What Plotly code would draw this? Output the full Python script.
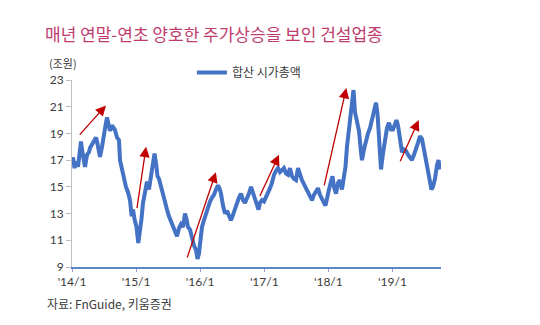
import plotly.graph_objects as go

# Combined market cap of construction stocks (trillion KRW), decimal-year time axis
years = [
    2014.000, 2014.016, 2014.039, 2014.062, 2014.094, 2014.125, 2014.140, 2014.156, 2014.187, 2014.203,
    2014.234, 2014.265, 2014.281, 2014.312, 2014.343, 2014.374, 2014.390, 2014.421, 2014.437, 2014.468,
    2014.499, 2014.530, 2014.546, 2014.569, 2014.593, 2014.624, 2014.647, 2014.671, 2014.702, 2014.733,
    2014.749, 2014.780, 2014.811, 2014.842, 2014.874, 2014.905, 2014.931, 2014.952, 2014.975, 2015.006,
    2015.034, 2015.053, 2015.084, 2015.108, 2015.139, 2015.170, 2015.201, 2015.232, 2015.264, 2015.287,
    2015.310, 2015.334, 2015.357, 2015.388, 2015.420, 2015.451, 2015.482, 2015.513, 2015.544, 2015.576,
    2015.607, 2015.638, 2015.669, 2015.700, 2015.732, 2015.763, 2015.786, 2015.810, 2015.841, 2015.872,
    2015.903, 2015.934, 2015.958, 2015.981, 2016.005, 2016.028, 2016.059, 2016.090, 2016.122, 2016.153,
    2016.184, 2016.215, 2016.246, 2016.278, 2016.301, 2016.324, 2016.356, 2016.387, 2016.418, 2016.449,
    2016.480, 2016.512, 2016.543, 2016.574, 2016.605, 2016.637, 2016.668, 2016.699, 2016.730, 2016.761,
    2016.793, 2016.824, 2016.855, 2016.886, 2016.910, 2016.933, 2016.964, 2016.995, 2017.027, 2017.058,
    2017.089, 2017.120, 2017.151, 2017.183, 2017.214, 2017.245, 2017.276, 2017.307, 2017.339, 2017.370,
    2017.401, 2017.432, 2017.463, 2017.495, 2017.526, 2017.557, 2017.588, 2017.619, 2017.651, 2017.682,
    2017.713, 2017.744, 2017.775, 2017.807, 2017.838, 2017.869, 2017.900, 2017.931, 2017.955, 2017.978,
    2018.009, 2018.041, 2018.064, 2018.087, 2018.119, 2018.150, 2018.181, 2018.212, 2018.243, 2018.267,
    2018.290, 2018.321, 2018.345, 2018.368, 2018.392, 2018.415, 2018.446, 2018.477, 2018.509, 2018.524,
    2018.555, 2018.587, 2018.618, 2018.649, 2018.680, 2018.711, 2018.743, 2018.766, 2018.789, 2018.821,
    2018.852, 2018.883, 2018.914, 2018.945, 2018.977, 2019.008, 2019.039, 2019.062, 2019.086, 2019.117,
    2019.148, 2019.179, 2019.211, 2019.242, 2019.273, 2019.304, 2019.335, 2019.367, 2019.398, 2019.429,
    2019.460, 2019.491, 2019.523, 2019.554, 2019.585, 2019.608, 2019.632, 2019.663, 2019.694, 2019.718,
    2019.741,
]
market_cap = [
    16.8, 17.2, 16.4, 16.9, 16.5, 18.0, 18.4, 17.8, 16.7, 16.5,
    17.4, 17.6, 17.9, 18.2, 18.5, 18.7, 18.4, 17.6, 17.25, 18.0,
    19.2, 19.8, 20.2, 19.6, 19.2, 19.6, 19.4, 19.25, 18.7, 18.5,
    17.0, 16.3, 15.6, 15.0, 14.6, 14.0, 12.8, 13.3, 12.6, 12.0,
    10.8, 11.4, 12.6, 13.8, 14.8, 15.4, 14.8, 15.8, 16.8, 17.5,
    16.8, 15.8, 15.6, 15.0, 14.3, 13.6, 13.3, 12.8, 12.4, 12.0,
    11.6, 11.3, 11.9, 12.2, 12.0, 13.0, 12.6, 12.0, 11.8, 11.1,
    10.6, 10.3, 9.6, 10.0, 11.2, 12.0, 12.5, 13.0, 13.4, 13.9,
    14.2, 14.4, 14.8, 15.1, 14.9, 14.5, 13.6, 13.0, 13.2, 12.8,
    12.5, 12.9, 13.4, 13.7, 14.2, 14.5, 14.0, 13.8, 14.1, 14.5,
    15.0, 14.5, 14.0, 13.6, 13.3, 13.8, 14.0, 13.9, 14.2, 14.5,
    14.9, 15.3, 15.9, 16.2, 16.4, 16.1, 16.3, 16.4, 16.0, 15.9,
    16.4, 15.8, 15.6, 15.5, 16.4, 15.9, 15.5, 15.2, 14.9, 14.5,
    14.2, 14.0, 14.4, 14.6, 14.9, 14.4, 14.0, 13.8, 13.6, 14.2,
    14.8, 15.4, 15.8, 15.0, 14.5, 15.3, 15.5, 14.8, 15.6, 16.5,
    18.0, 19.3, 20.0, 21.4, 22.25, 20.6, 19.8, 19.2, 17.6, 17.0,
    17.8, 18.5, 19.0, 19.4, 20.0, 20.6, 21.3, 20.5, 18.5, 16.3,
    17.5, 18.6, 19.4, 19.8, 19.3, 19.3, 19.8, 20.0, 19.6, 18.8,
    17.6, 17.8, 17.7, 17.4, 17.2, 17.0, 17.4, 17.8, 18.3, 18.8,
    18.6, 17.8, 17.0, 16.0, 15.3, 14.8, 15.0, 15.6, 16.6, 17.0,
    16.3,
]

# Year-end / year-start rally arrows: (start year, start value, end year, end value)
rally_arrows = [
    (2014.100, 18.8, 2014.530, 21.1),
    (2015.010, 13.3, 2015.156, 18.0),
    (2015.790, 9.6, 2016.245, 16.1),
    (2016.920, 14.2, 2017.230, 17.4),
    (2017.930, 15.0, 2018.280, 22.4),
    (2019.110, 16.8, 2019.410, 20.0),
]

tick_years = [2014, 2015, 2016, 2017, 2018, 2019]
tick_labels = ["'14/1", "'15/1", "'16/1", "'17/1", "'18/1", "'19/1"]
y_ticks = [9, 11, 13, 15, 17, 19, 21, 23]

FONT = "Noto Sans CJK KR"
TEXT = "#3a3a3a"

fig = go.Figure()
fig.add_trace(go.Scatter(
    x=years, y=market_cap, mode="lines", name="합산 시가총액",
    line=dict(color="#4472C4", width=4),
))

for x0, y0, x1, y1 in rally_arrows:
    fig.add_annotation(
        x=x1, y=y1, ax=x0, ay=y0, xref="x", yref="y", axref="x", ayref="y",
        text="", showarrow=True, arrowhead=2, arrowsize=1.6, arrowwidth=1.3,
        arrowcolor="#C00000", standoff=0,
    )

fig.add_annotation(
    text="(조원)", xref="paper", yref="paper", x=-0.024, y=1.091,
    xanchor="center", yanchor="middle", showarrow=False,
    font=dict(family=FONT, size=11, color=TEXT),
)
fig.add_annotation(
    text="자료: FnGuide, 키움증권", xref="paper", yref="paper", x=-0.073, y=-0.196,
    xanchor="left", yanchor="middle", showarrow=False,
    font=dict(family=FONT, size=12, color=TEXT),
)

fig.update_layout(
    width=540, height=325, autosize=False,
    margin=dict(l=72, r=99, t=80, b=58),
    paper_bgcolor="white", plot_bgcolor="white",
    title=dict(
        text="매년 연말-연초 양호한 주가상승을 보인 건설업종",
        x=45 / 540, xref="container", xanchor="left",
        y=1 - 35 / 325, yref="container", yanchor="middle",
        font=dict(family=FONT, size=17, color="#BE3C6E"),
    ),
    showlegend=True,
    legend=dict(
        x=0.325, y=1.04, xanchor="left", yanchor="middle",
        font=dict(family=FONT, size=12, color=TEXT),
        bgcolor="rgba(0,0,0,0)", itemwidth=30,
    ),
    xaxis=dict(
        range=[2014, 2019.757], tickvals=tick_years, ticktext=tick_labels,
        showgrid=False, zeroline=False, showline=True, linecolor="#5B86C5", linewidth=1.5,
        ticks="outside", ticklen=3, tickcolor="#8FA8CC",
        tickfont=dict(family="Lato", size=12, color=TEXT),
    ),
    yaxis=dict(
        range=[9, 23], tickvals=y_ticks,
        showgrid=False, zeroline=False, showline=True, linecolor="#BFBFBF", linewidth=1,
        ticks="outside", ticklen=5, tickcolor="#BFBFBF",
        tickfont=dict(family="Lato", size=12, color=TEXT),
    ),
)

fig.write_html("out.html")
